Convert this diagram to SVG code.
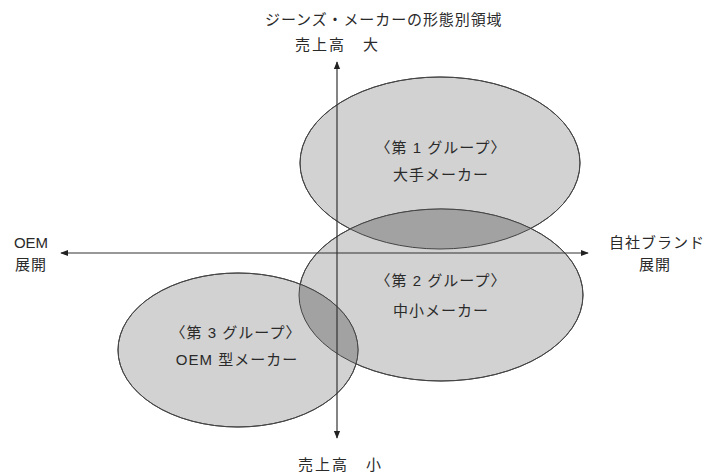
<svg xmlns="http://www.w3.org/2000/svg" width="707" height="472" viewBox="0 0 707 472">
<style>
text{font-family:"Liberation Sans","Noto Sans CJK JP",sans-serif;font-size:15px;fill:#2a2a2a;letter-spacing:1px}
.c{text-anchor:middle}
.e{fill:#d2d2d2;stroke:#444;stroke-width:1}
.lens{fill:#a2a2a2;stroke:none}
.ol{fill:none;stroke:#444;stroke-width:1}
.ax{stroke:#333;stroke-width:1.2;fill:none}
</style>
<defs>
<marker id="ah" viewBox="0 0 10 10" refX="9" refY="5" markerWidth="8" markerHeight="8" markerUnits="userSpaceOnUse" orient="auto-start-reverse">
<path d="M0,1 L10,5 L0,9 Z" fill="#222"/>
</marker>
<clipPath id="c1"><ellipse cx="440" cy="163" rx="140" ry="86"/></clipPath>
<clipPath id="c2"><ellipse cx="441" cy="295" rx="142" ry="86"/></clipPath>
</defs>
<rect width="707" height="472" fill="#fff"/>
<text x="265" y="25" style="letter-spacing:0.9px">ジーンズ・メーカーの形態別領域</text>
<text x="295" y="50" style="letter-spacing:2px">売上高　大</text>
<text x="298" y="470" style="letter-spacing:2px">売上高　小</text>
<g id="group1">
<ellipse class="e" cx="440" cy="163" rx="140" ry="86"/>
<text class="c" x="441" y="153">〈第 1 グループ〉</text>
<text class="c" x="441" y="180">大手メーカー</text>
</g>
<g id="group2">
<ellipse class="e" cx="441" cy="295" rx="142" ry="86"/>
<text class="c" x="441" y="286">〈第 2 グループ〉</text>
<text class="c" x="441" y="316">中小メーカー</text>
</g>
<g id="group3">
<ellipse class="e" cx="238" cy="350" rx="120" ry="77"/>
<text class="c" x="236" y="338">〈第 3 グループ〉</text>
<text class="c" x="237" y="365">OEM 型メーカー</text>
</g>
<g id="overlaps">
<ellipse class="lens" cx="441" cy="295" rx="142" ry="86" clip-path="url(#c1)"/>
<ellipse class="lens" cx="238" cy="350" rx="120" ry="77" clip-path="url(#c2)"/>
<ellipse class="ol" cx="440" cy="163" rx="140" ry="86"/>
<ellipse class="ol" cx="441" cy="295" rx="142" ry="86"/>
<ellipse class="ol" cx="238" cy="350" rx="120" ry="77"/>
</g>
<g id="left-label">
<text class="c" x="31" y="248" style="letter-spacing:0">OEM</text>
<text class="c" x="31" y="270">展開</text>
</g>
<g id="right-label">
<text class="c" x="657" y="248">自社ブランド</text>
<text class="c" x="655" y="270">展開</text>
</g>
<g id="connectors">
<line class="ax" x1="337" y1="62" x2="337" y2="438" marker-start="url(#ah)" marker-end="url(#ah)"/>
<line class="ax" x1="61" y1="253" x2="588" y2="253" marker-start="url(#ah)" marker-end="url(#ah)"/>
</g>
</svg>
